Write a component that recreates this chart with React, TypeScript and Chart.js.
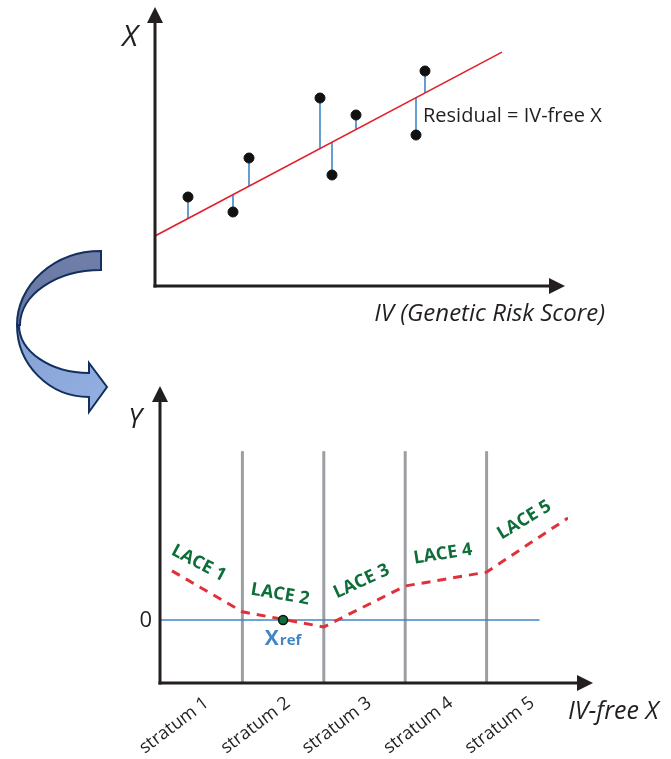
import { useEffect, useRef } from 'react';
import { Chart, registerables } from 'chart.js';

Chart.register(...registerables);

// ---- Upper panel: exposure X regressed on the instrument (genetic risk score)
const IV_SCORES = [3.3, 7.8, 9.4, 16.5, 17.7, 20.1, 26.1, 27.0];
const X_VALUES = [8.9, 7.4, 12.8, 18.8, 11.1, 17.1, 15.1, 21.5];
const FIT_INTERCEPT = 5.0;
const FIT_SLOPE = 0.53;
const FIT_X_END = 34.7;

// ---- Lower panel: stratum-specific local average causal effects
const STRATA = ['stratum 1', 'stratum 2', 'stratum 3', 'stratum 4', 'stratum 5'];
const STRATUM_BOUNDS = [1, 2, 3, 4];
const LACE_LABELS = ['LACE 1', 'LACE 2', 'LACE 3', 'LACE 4', 'LACE 5'];
const LACE_X = [0.135, 1, 2, 3, 4, 5];
const LACE_Y = [0.78, 0.13, -0.11, 0.54, 0.76, 1.62];
const X_REF = 1.5;
const ZERO_LINE_END = 4.65;
const BOUND_TOP = 2.68;

const INK = '#231f20';
const FONT = '"Open Sans", "Noto Sans", sans-serif';
const GREEN = '#0d6e3a';
const BLUE = '#3f86c6';
const RED = '#e2202a';

function arrowUp(ctx: CanvasRenderingContext2D, x: number, yBottom: number, yTip: number) {
  const len = 16;
  const half = 8;
  ctx.beginPath();
  ctx.moveTo(x, yBottom);
  ctx.lineTo(x, yTip + len - 2);
  ctx.stroke();
  ctx.beginPath();
  ctx.moveTo(x, yTip);
  ctx.lineTo(x - half, yTip + len);
  ctx.lineTo(x + half, yTip + len);
  ctx.closePath();
  ctx.fill();
}

function arrowRight(ctx: CanvasRenderingContext2D, y: number, xLeft: number, xTip: number) {
  const len = 16;
  const half = 8;
  ctx.beginPath();
  ctx.moveTo(xLeft, y);
  ctx.lineTo(xTip - len + 2, y);
  ctx.stroke();
  ctx.beginPath();
  ctx.moveTo(xTip, y);
  ctx.lineTo(xTip - len, y - half);
  ctx.lineTo(xTip - len, y + half);
  ctx.closePath();
  ctx.fill();
}

const upperDecor = {
  id: 'upperDecor',
  afterDraw(chart: any) {
    const { ctx, chartArea: a, scales } = chart;
    const sx = scales.x;
    const sy = scales.y;
    ctx.save();
    ctx.strokeStyle = INK;
    ctx.fillStyle = INK;
    ctx.lineWidth = 3;
    arrowUp(ctx, a.left, a.bottom + 1.5, a.top - 29);
    arrowRight(ctx, a.bottom, a.left - 1.5, a.right + 10);

    ctx.textAlign = 'center';
    ctx.textBaseline = 'middle';
    ctx.font = `italic 30px ${FONT}`;
    ctx.fillText('X', a.left - 25, a.top + 1);

    ctx.textAlign = 'right';
    ctx.font = `italic 24px ${FONT}`;
    ctx.fillText('IV (Genetic Risk Score)', a.right + 50, a.bottom + 28);

    ctx.textAlign = 'left';
    ctx.font = `20px ${FONT}`;
    ctx.fillText('Residual = IV-free X', sx.getPixelForValue(26.8), sy.getPixelForValue(17));
    ctx.restore();
  },
};

function drawCurvedArrow(ctx: CanvasRenderingContext2D, ox: number, oy: number) {
  ctx.save();
  ctx.translate(ox, oy);
  ctx.lineJoin = 'miter';
  ctx.strokeStyle = '#122f5e';
  ctx.lineWidth = 2;

  // back face of the ribbon (upper half)
  const g1 = ctx.createLinearGradient(0, 251, 0, 325);
  g1.addColorStop(0, '#6f7fa9');
  g1.addColorStop(1, '#6676a2');
  ctx.beginPath();
  ctx.moveTo(101, 251);
  ctx.ellipse(101, 325, 84, 74, 0, -Math.PI / 2, Math.PI, true);
  ctx.ellipse(101, 325, 81, 55, 0, Math.PI, 1.5 * Math.PI, false);
  ctx.closePath();
  ctx.fillStyle = g1;
  ctx.fill();
  ctx.stroke();

  // front face (lower half) ending in the arrow head
  const g2 = ctx.createLinearGradient(17, 325, 107, 400);
  g2.addColorStop(0, '#86a1d4');
  g2.addColorStop(1, '#93aee0');
  ctx.beginPath();
  ctx.moveTo(17, 325);
  ctx.ellipse(89, 325, 72, 72, 0, Math.PI, Math.PI / 2, true);
  ctx.lineTo(89, 412);
  ctx.lineTo(107, 387);
  ctx.lineTo(89, 363);
  ctx.lineTo(89, 373);
  ctx.ellipse(89, 325, 70, 48, 0, Math.PI / 2, Math.PI, false);
  ctx.closePath();
  ctx.fillStyle = g2;
  ctx.fill();
  ctx.stroke();
  ctx.restore();
}

const lowerDecor = {
  id: 'lowerDecor',
  afterDraw(chart: any) {
    const { ctx, chartArea: a, scales } = chart;
    const sx = scales.x;
    const sy = scales.y;
    ctx.save();

    drawCurvedArrow(ctx, 0, -240);

    ctx.strokeStyle = INK;
    ctx.fillStyle = INK;
    ctx.lineWidth = 3;
    arrowUp(ctx, a.left - 1, a.bottom + 1.5, a.top - 45);
    arrowRight(ctx, a.bottom, a.left - 2.5, a.right + 25);

    ctx.textBaseline = 'middle';
    ctx.textAlign = 'center';
    ctx.font = `italic 27px ${FONT}`;
    ctx.fillText('Y', a.left - 26, a.top - 11);

    ctx.textAlign = 'right';
    ctx.font = `22px ${FONT}`;
    ctx.fillText('0', a.left - 9, sy.getPixelForValue(0) + 1);

    ctx.textAlign = 'left';
    ctx.font = `italic 25px ${FONT}`;
    ctx.fillText('IV-free X', a.right, a.bottom + 29);

    // stratum names under the axis
    ctx.font = `18px ${FONT}`;
    ctx.textAlign = 'right';
    STRATA.forEach((name, i) => {
      const px = sx.getPixelForValue(i + 0.5);
      ctx.save();
      ctx.translate(px + 5, a.bottom + 18);
      ctx.rotate((-37 * Math.PI) / 180);
      ctx.fillText(name, 0, 0);
      ctx.restore();
    });

    // LACE labels, aligned with each stratum's segment
    ctx.fillStyle = GREEN;
    ctx.font = `bold 18px ${FONT}`;
    ctx.textAlign = 'center';
    LACE_LABELS.forEach((label, i) => {
      const x0 = sx.getPixelForValue(LACE_X[i]);
      const y0 = sy.getPixelForValue(LACE_Y[i]);
      const x1 = sx.getPixelForValue(LACE_X[i + 1]);
      const y1 = sy.getPixelForValue(LACE_Y[i + 1]);
      const ang = Math.atan2(y1 - y0, x1 - x0);
      const cx = sx.getPixelForValue(i + 0.5);
      const t = (cx - x0) / (x1 - x0);
      const cy = y0 + t * (y1 - y0);
      ctx.save();
      ctx.translate(cx - 3, cy - 25);
      ctx.rotate(ang * 0.92);
      ctx.fillText(label, 0, 0);
      ctx.restore();
    });

    // reference exposure label
    const rx = sx.getPixelForValue(X_REF);
    const ry = sy.getPixelForValue(0);
    ctx.fillStyle = BLUE;
    ctx.textBaseline = 'alphabetic';
    ctx.textAlign = 'left';
    ctx.font = `bold 21px ${FONT}`;
    const wX = ctx.measureText('X').width;
    ctx.font = `bold 15px ${FONT}`;
    const wRef = ctx.measureText('ref').width;
    const left = rx - (wX + wRef + 1) / 2;
    ctx.font = `bold 21px ${FONT}`;
    ctx.fillText('X', left, ry + 25);
    ctx.font = `bold 15px ${FONT}`;
    ctx.fillText('ref', left + wX + 1, ry + 25);

    ctx.restore();
  },
};

export default function App() {
  const topRef = useRef<HTMLCanvasElement>(null);
  const botRef = useRef<HTMLCanvasElement>(null);

  useEffect(() => {
    const residuals = IV_SCORES.map((iv, i) => ({
      data: [
        { x: iv, y: X_VALUES[i] },
        { x: iv, y: FIT_INTERCEPT + FIT_SLOPE * iv },
      ],
      showLine: true,
      borderColor: BLUE,
      borderWidth: 1.6,
      pointRadius: 0,
      order: 3,
    }));

    const top = new Chart(topRef.current!, {
      type: 'scatter',
      data: {
        datasets: [
          {
            data: IV_SCORES.map((iv, i) => ({ x: iv, y: X_VALUES[i] })),
            backgroundColor: '#111',
            borderColor: '#111',
            pointRadius: 5,
            order: 1,
          },
          {
            data: [
              { x: 0, y: FIT_INTERCEPT },
              { x: FIT_X_END, y: FIT_INTERCEPT + FIT_SLOPE * FIT_X_END },
            ],
            showLine: true,
            borderColor: RED,
            borderWidth: 1.6,
            pointRadius: 0,
            order: 2,
          },
          ...residuals,
        ],
      },
      options: {
        animation: false,
        responsive: false,
        events: [],
        layout: { padding: { left: 155, right: 116, top: 36, bottom: 59 } },
        plugins: { legend: { display: false }, tooltip: { enabled: false } },
        scales: {
          x: { type: 'linear', min: 0, max: 40, display: false },
          y: { type: 'linear', min: 0, max: 25, display: false },
        },
      },
      plugins: [upperDecor],
    });

    const bounds = STRATUM_BOUNDS.map((b) => ({
      data: [
        { x: b, y: -1 },
        { x: b, y: BOUND_TOP },
      ],
      showLine: true,
      borderColor: '#9b9ea3',
      borderWidth: 3,
      pointRadius: 0,
      order: 5,
    }));

    const bottom = new Chart(botRef.current!, {
      type: 'scatter',
      data: {
        datasets: [
          {
            data: [{ x: X_REF, y: 0 }],
            backgroundColor: GREEN,
            borderColor: '#111',
            borderWidth: 1.5,
            pointRadius: 4.5,
            order: 1,
          },
          {
            data: LACE_X.map((x, i) => ({ x, y: LACE_Y[i] })),
            showLine: true,
            borderColor: '#e0313b',
            borderWidth: 3,
            borderDash: [9, 7],
            pointRadius: 0,
            order: 2,
          },
          {
            data: [
              { x: 0, y: 0 },
              { x: ZERO_LINE_END, y: 0 },
            ],
            showLine: true,
            borderColor: BLUE,
            borderWidth: 1.6,
            pointRadius: 0,
            order: 3,
          },
          ...bounds,
        ],
      },
      options: {
        animation: false,
        responsive: false,
        events: [],
        layout: { padding: { left: 161, right: 103, top: 191, bottom: 76 } },
        plugins: { legend: { display: false }, tooltip: { enabled: false } },
        scales: {
          x: { type: 'linear', min: 0, max: 5, display: false },
          y: { type: 'linear', min: -1, max: 3, display: false },
        },
      },
      plugins: [lowerDecor],
    });

    return () => {
      top.destroy();
      bottom.destroy();
    };
  }, []);

  return (
    <div style={{ position: 'absolute', left: 0, top: 0, width: 671, height: 759, background: '#fff' }}>
      <canvas ref={topRef} width={671} height={345} style={{ position: 'absolute', left: 0, top: 0 }} />
      <canvas ref={botRef} width={671} height={519} style={{ position: 'absolute', left: 0, top: 240 }} />
    </div>
  );
}
